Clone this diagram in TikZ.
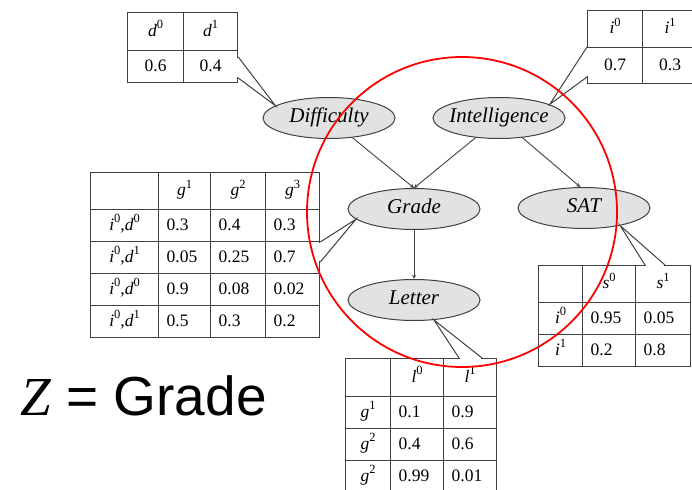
\documentclass[tikz,border=0pt]{standalone}
\usepackage{fontspec}
\setmainfont{Liberation Serif}
\newfontfamily\sansf{Liberation Sans}
\usetikzlibrary{shapes.geometric,matrix,arrows}
\definecolor{edge}{HTML}{404040}
\definecolor{varfill}{HTML}{E2E2E2}
\newcommand{\val}[2]{\textit{#1}\raisebox{0.42em}{\fontsize{12.5}{13}\selectfont #2}}

\begin{document}
\begin{tikzpicture}[x=1pt,y=-1pt,>=stealth,
  var/.style={ellipse, draw=edge, fill=varfill, line width=1pt, minimum width=132pt, minimum height=41pt,
    inner sep=0pt, text height=14pt, text depth=5pt, font=\fontsize{21}{24}\selectfont\itshape},
  cpd/.style={matrix of nodes, nodes in empty cells, anchor=north west, inner sep=0pt, outer sep=0pt,
    column sep=-1.3pt, row sep=-1.3pt,
    nodes={draw=edge, line width=1.3pt, inner xsep=8pt, inner ysep=0pt, minimum height=32pt,
      text height=13pt, text depth=4pt, align=left, font=\fontsize{17.5}{20}\selectfont}},
  dep/.style={->, draw=edge, line width=0.9pt},
  callout/.style={draw=edge, line width=1pt},
  callgap/.style={white, line width=2.6pt, shorten <=1.3pt, shorten >=1.3pt}]
\useasboundingbox (0,0) rectangle (692,489);
\clip (0,0) rectangle (692,489);

% variables
\node[var] (diff) at (329,118) {\makebox[0pt]{Difficulty}};
\node[var] (intel) at (499,118) {\makebox[0pt]{Intelligence}};
\node[var] (grade) at (414,209) {\makebox[0pt]{Grade}};
\node[var] (sat) at (584,208) {\makebox[0pt]{SAT}};
\node[var] (letter) at (414,300) {\makebox[0pt]{Letter}};

\draw[dep] (diff.-40) -- (grade.north);
\draw[dep] (intel.-140) -- (grade.north);
\draw[dep] (intel.-40) -- (sat.100);
\draw[dep] (grade) -- (letter);

% CPD tables
\matrix[cpd,
  column 1/.style={nodes={text width=40pt, align=center}},
  column 2/.style={nodes={text width=38pt, align=center}},
  row 1/.style={nodes={minimum height=38pt}}] (tD) at (127,12) {
  \val{d}{0} & \val{d}{1} \\
  0.6 & 0.4 \\
};
\matrix[cpd,
  column 1/.style={nodes={text width=39pt, align=center}},
  column 2/.style={nodes={text width=39pt, align=center}},
  row 1/.style={nodes={minimum height=37pt}},
  row 2/.style={nodes={minimum height=36pt}}] (tI) at (587,10) {
  \val{i}{0} & \val{i}{1} \\
  0.7 & 0.3 \\
};
\matrix[cpd,
  column 1/.style={nodes={text width=52pt, align=center}},
  column 2/.style={nodes={text width=36pt}},
  column 3/.style={nodes={text width=39pt}},
  column 4/.style={nodes={text width=38pt}},
  row 1/.style={nodes={align=center, minimum height=37pt}}] (tG) at (90,172) {
  & \val{g}{1} & \val{g}{2} & \val{g}{3} \\
  \val{i}{0},\val{d}{0} & 0.3 & 0.4 & 0.3 \\
  \val{i}{0},\val{d}{1} & 0.05 & 0.25 & 0.7 \\
  \val{i}{0},\val{d}{0} & 0.9 & 0.08 & 0.02 \\
  \val{i}{0},\val{d}{1} & 0.5 & 0.3 & 0.2 \\
};
\matrix[cpd,
  column 1/.style={nodes={text width=28pt, align=center}},
  column 2/.style={nodes={text width=37pt}},
  column 3/.style={nodes={text width=39pt}},
  row 1/.style={nodes={align=center, minimum height=37pt}}] (tS) at (538,265) {
  & \val{s}{0} & \val{s}{1} \\
  \val{i}{0} & 0.95 & 0.05 \\
  \val{i}{1} & 0.2 & 0.8 \\
};
\matrix[cpd,
  column 1/.style={nodes={text width=29pt, align=center}},
  column 2/.style={nodes={text width=37pt}},
  column 3/.style={nodes={text width=37pt}},
  row 1/.style={nodes={align=center, minimum height=38pt}}] (tL) at (345,358) {
  & \val{l}{0} & \val{l}{1} \\
  \val{g}{1} & 0.1 & 0.9 \\
  \val{g}{2} & 0.4 & 0.6 \\
  \val{g}{2} & 0.99 & 0.01 \\
};

% callouts
\draw[callgap] ([yshift=-45pt]tD.north east) -- ([yshift=-66pt]tD.north east);
\draw[callout] ([yshift=-45pt]tD.north east) -- (diff.167) -- ([yshift=-66pt]tD.north east);
\draw[callgap] ([yshift=-37pt]tI.north west) -- ([yshift=-67pt]tI.north west);
\draw[callout] ([yshift=-37pt]tI.north west) -- (intel.15) -- ([yshift=-67pt]tI.north west);
\draw[callgap] ([yshift=-70pt]tG.north east) -- ([yshift=-90pt]tG.north east);
\draw[callout] ([yshift=-70pt]tG.north east) -- (grade.-170) -- ([yshift=-90pt]tG.north east);
\draw[callgap] ([xshift=107pt]tS.north west) -- ([xshift=127pt]tS.north west);
\draw[callout] ([xshift=107pt]tS.north west) -- (sat.-26) -- ([xshift=127pt]tS.north west);
\draw[callgap] ([xshift=114pt]tL.north west) -- ([xshift=137pt]tL.north west);
\draw[callout] ([xshift=114pt]tL.north west) -- (letter.-45) -- ([xshift=137pt]tL.north west);

\node[anchor=base west, font=\sansf\fontsize{55}{62}\selectfont] (zeq) at (17,415) {{\rmfamily\itshape Z} = Grade};

\draw[red, line width=1.8pt] (462,212) circle[radius=155pt];
\end{tikzpicture}
\end{document}
